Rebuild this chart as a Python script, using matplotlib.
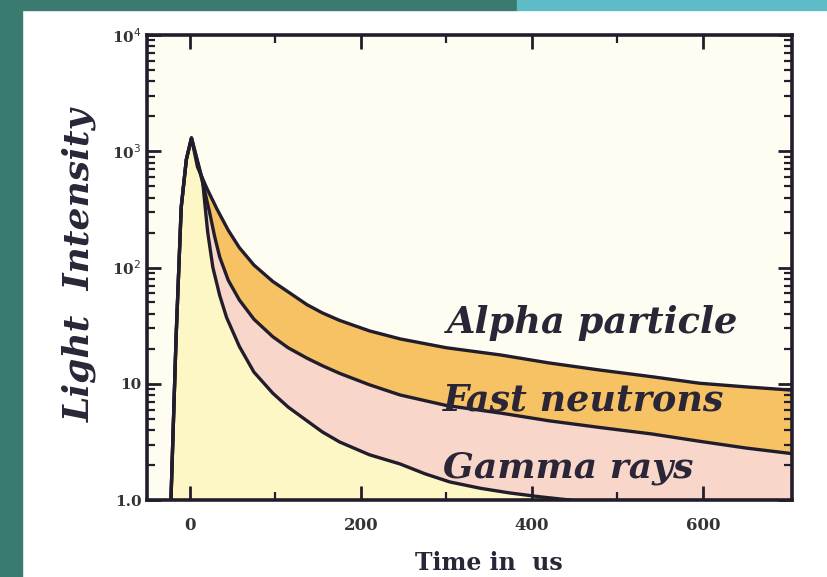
# Curvas de decaimiento de luz de un centelleador (alfa, neutrones rápidos, gamma)
import matplotlib.pyplot as plt
from matplotlib.patches import Rectangle

# Flanco de subida común a las tres curvas
rise_x = [-22, -16, -10, -4, 2]
rise_y = [1.0, 25, 330, 850, 1300]

# Decaimiento de cada curva (tiempo en us, intensidad)
alpha_x = [9, 20, 32, 45, 58, 75, 97, 115, 137, 155, 175, 210, 246, 300,
           363, 420, 480, 540, 596, 650, 705]
alpha_y = [733, 479, 316, 209, 148, 105, 75.9, 61.7, 47.9, 40.7, 35.1, 28.5,
           24.3, 20.4, 17.7, 15.1, 13.1, 11.5, 10.1, 9.4, 8.8]

neutron_x = [12, 17, 23, 29, 35, 45, 58, 75, 97, 115, 137, 155, 175, 210,
             246, 300, 363, 420, 480, 540, 596, 650, 705]
neutron_y = [661, 468, 302, 186, 123, 77.6, 52.5, 35.9, 25.4, 20.4, 16.6,
             14.3, 12.3, 9.8, 8.0, 6.5, 5.6, 4.8, 4.2, 3.7, 3.2, 2.8, 2.5]

gamma_x = [15, 18, 21, 27, 35, 43, 58, 75, 97, 115, 137, 155, 175, 210, 246,
           275, 304, 340, 374, 410, 444]
gamma_y = [562, 331, 200, 100, 57.5, 37.2, 20.9, 12.6, 8.3, 6.3, 4.8, 3.85,
           3.16, 2.45, 2.04, 1.68, 1.43, 1.26, 1.15, 1.064, 1.0]

labels = ['Alpha particle', 'Fast neutrons', 'Gamma rays']
label_pos = [(300, 33), (296, 7.2), (296, 1.88)]
label_size = [26.5, 26.3, 26]

yticks = [1, 10, 100, 1000, 10000]
ytick_labels = ['1.0', '10', '10$^2$', '10$^3$', '10$^4$']
xticks = [0, 200, 400, 600]

ink = '#221d2c'

fig = plt.figure(figsize=(8.28, 5.77), dpi=100)
fig.patch.set_facecolor('white')

# franjas del fondo de la diapositiva
fig.patches.append(Rectangle((0, 0), 22 / 828, 1, transform=fig.transFigure,
                             color='#3b7b6f', zorder=-5))
fig.patches.append(Rectangle((0, 1 - 10 / 577), 517 / 828, 10 / 577,
                             transform=fig.transFigure, color='#3b7b6f', zorder=-5))
fig.patches.append(Rectangle((517 / 828, 1 - 10 / 577), 311 / 828, 10 / 577,
                             transform=fig.transFigure, color='#5dbcc6', zorder=-5))

ax = fig.add_axes([147 / 828, 77 / 577, 645 / 828, 465 / 577])
ax.set_facecolor('#fffdf1')
ax.set_yscale('log')

ax_full = rise_x + alpha_x
ay_full = rise_y + alpha_y
nx_full = rise_x + neutron_x
ny_full = rise_y + neutron_y
gx_full = rise_x + gamma_x
gy_full = rise_y + gamma_y

ax.fill_between(ax_full, ay_full, 1, color='#f7c264', lw=0)
ax.fill_between(nx_full, ny_full, 1, color='#f8d7ca', lw=0)
ax.fill_between(gx_full, gy_full, 1, color='#fdf7c6', lw=0)

for xs, ys in [(ax_full, ay_full), (nx_full, ny_full), (gx_full, gy_full)]:
    ax.plot(xs, ys, color=ink, lw=2.4, solid_joinstyle='round')

for txt, (x, y), fs in zip(labels, label_pos, label_size):
    ax.text(x, y, txt, family='DejaVu Serif', style='italic', weight='bold',
            fontsize=fs, color='#2a2638', va='center', ha='left')

ax.set_xlim(-50, 704)
ax.set_ylim(1, 1e4)

ax.set_xticks(xticks)
ax.set_xticks([100, 300, 500], minor=True)
ax.set_yticks(yticks)
ax.set_yticklabels(ytick_labels)
ax.tick_params(which='both', direction='in', top=True, right=True, color=ink, width=2)
ax.tick_params(which='major', length=10)
ax.tick_params(which='minor', length=6, width=1.6)
ax.tick_params(axis='x', labelsize=12, pad=12)
ax.tick_params(axis='y', labelsize=11, pad=4)
for lab in ax.get_xticklabels() + ax.get_yticklabels():
    lab.set_family('DejaVu Serif')
    lab.set_weight('bold')
    lab.set_color('#333333')

for sp in ax.spines.values():
    sp.set_linewidth(2.6)
    sp.set_color(ink)

ax.set_ylabel('Light  Intensity', family='DejaVu Serif', style='italic',
              weight='bold', fontsize=26, color='#2a2638')
ax.yaxis.set_label_coords(-0.078, 0.505)
ax.set_xlabel('Time in  us', family='DejaVu Serif', weight='bold',
              fontsize=17, color='#2a2638')
ax.xaxis.set_label_coords(0.53, -0.11)

fig.savefig('out.png', dpi=100)
